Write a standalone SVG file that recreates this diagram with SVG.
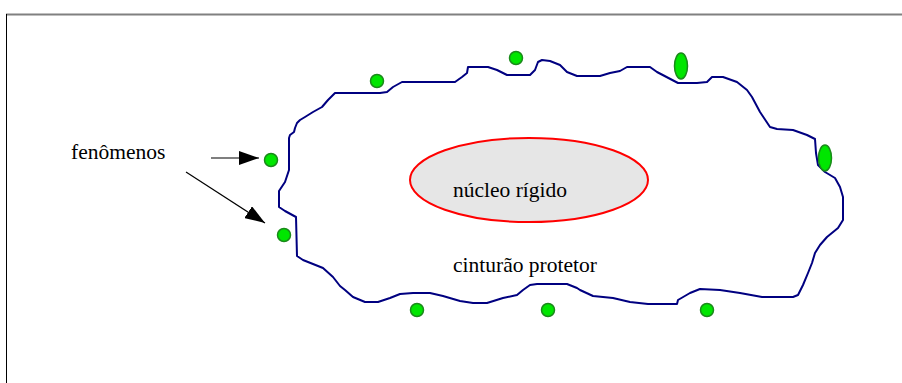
<svg xmlns="http://www.w3.org/2000/svg" width="902" height="383" viewBox="0 0 902 383">
<style>
.t{font-family:"Liberation Serif","Times New Roman",serif;font-size:21.5px;fill:#000}
.dot{fill:#00e600;stroke:#1a8a1a;stroke-width:1.5}
.con{stroke:#000;stroke-width:1.2;fill:none}
</style>
<defs>
<marker id="ah2" viewBox="0 0 20 14" refX="20" refY="7" markerWidth="20" markerHeight="14" markerUnits="userSpaceOnUse" orient="auto">
<path d="M0,0 L20,7 L0,14 Z" fill="#000"/>
</marker>
</defs>
<rect width="902" height="383" fill="#fff"/>
<g id="frame">
<line x1="6" y1="14.5" x2="902" y2="14.5" stroke="#808080" stroke-width="2"/>
<line x1="6.5" y1="14" x2="6.5" y2="383" stroke="#000" stroke-width="1"/>
</g>
<g id="cinturao">
<path d="M289,170 L289,138 L290,135 L294,132 L295,128 L297,123 L300,120 L305,117 L313,112 L322,107 L328,100 L335,93 L380,93 L387,92 L393,87 L402,82 L455,82 L462,77 L467,73 L468,67 L488,67 L497,70 L507,75 L530,75 L535,70 L538,62 L542,60 L550,61 L560,65 L567,72 L577,76 L600,76 L610,73 L620,71 L627,67 L650,67 L657,72 L678,83 L697,83 L707,82 L712,77 L723,77 L737,82 L747,90 L752,97 L760,112 L770,127 L777,129 L793,130 L807,135 L815,139 L816,153 L818,165 L825,172 L835,178 L840,187 L843,197 L843,220 L838,228 L827,237 L820,245 L815,253 L812,263 L808,273 L803,285 L798,295 L793,297 L762,297 L740,293 L720,290 L700,289 L690,293 L678,300 L677,304 L648,304 L630,302 L613,298 L593,296 L580,290 L577,288 L567,284 L537,284 L530,285 L523,290 L517,295 L503,298 L487,303 L473,303 L460,301 L443,296 L430,293 L413,293 L400,294 L390,298 L378,302 L365,302 L353,297 L345,290 L340,286 L333,277 L323,268 L313,264 L303,260 L297,256 L296,217 L285,211 L279,207 L279,191 L285,182 Z" fill="none" stroke="#000080" stroke-width="2" stroke-linejoin="round"/>
<text class="t" x="453" y="272">cinturão protetor</text>
</g>
<g id="nucleo">
<ellipse cx="529" cy="180" rx="119" ry="42" fill="#e6e6e6" stroke="#ff0000" stroke-width="2"/>
<text class="t" x="453" y="197">núcleo rígido</text>
</g>
<g id="fenomenos">
<text class="t" x="71" y="159">fenômenos</text>
</g>
<g id="dots">
<circle class="dot" cx="377" cy="81" r="6.5"/>
<circle class="dot" cx="516" cy="58" r="6.5"/>
<ellipse class="dot" cx="681" cy="66" rx="6.5" ry="13"/>
<ellipse class="dot" cx="825" cy="158" rx="6.5" ry="13"/>
<circle class="dot" cx="271" cy="160" r="6.5"/>
<circle class="dot" cx="284" cy="235" r="6.5"/>
<circle class="dot" cx="417" cy="310" r="6.5"/>
<circle class="dot" cx="548" cy="310" r="6.5"/>
<circle class="dot" cx="707" cy="310" r="6.5"/>
</g>
<g id="connectors">
<line class="con" x1="211" y1="158" x2="259" y2="158" marker-end="url(#ah2)"/>
<line class="con" x1="186" y1="172" x2="265" y2="223" marker-end="url(#ah2)"/>
</g>
</svg>
